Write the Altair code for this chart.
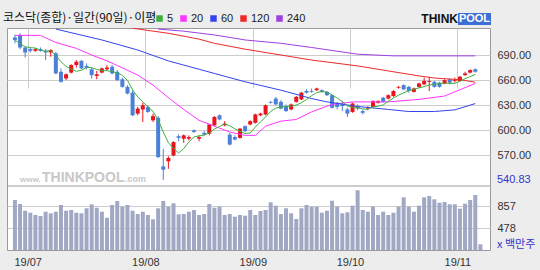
import altair as alt
import pandas as pd

# ---------------- data ----------------
opens = [711, 714, 699, 697, 695, 697, 695, 693, 692, 670,
         662, 669, 678, 683, 677, 673, 665, 669, 673, 676,
         670, 661, 652, 645, 620, 625, 628, 612, 615, 557,
         563, 570, 593, 590, 590, 600, 590, 597, 596, 606,
         618, 606, 595, 592, 591, 605, 607, 609, 618, 619,
         634, 638, 634, 629, 625, 634, 637, 647, 647, 648,
         648, 646, 642, 633, 631, 625, 622, 629, 623, 626,
         628, 633, 639, 638, 641, 651, 654, 652, 646, 652,
         655, 658, 658, 657, 656, 661, 659, 659, 666, 669, 673]
highs = [714, 716, 700, 699, 698, 699, 697, 697, 694, 674,
         668, 679, 684, 684, 680, 675, 671, 675, 678, 678,
         672, 663, 654, 648, 628, 633, 630, 620, 617, 578,
         569, 587, 595, 595, 594, 601, 594, 599, 608, 617,
         619, 611, 597, 594, 603, 606, 612, 620, 621, 631,
         635, 640, 636, 631, 632, 641, 646, 649, 650, 651,
         649, 647, 643, 634, 635, 627, 633, 631, 625, 629,
         636, 636, 640, 643, 648, 653, 655, 653, 651, 657,
         663, 664, 659, 658, 661, 662, 663, 665, 670, 673, 674]
lows = [704, 697, 687, 693, 694, 694, 684, 688, 667, 657,
        660, 668, 675, 673, 673, 662, 661, 668, 671, 667,
        659, 651, 643, 617, 618, 610, 621, 610, 567, 540.83,
        554, 569, 587, 585, 588, 597, 587, 594, 594, 605,
        612, 605, 582, 588, 590, 598, 606, 608, 617, 618,
        632, 630, 625, 622, 624, 633, 636, 644, 645, 647,
        645, 641, 626, 625, 623, 616, 621, 624, 619, 624,
        627, 632, 633, 637, 640, 650, 648, 645, 645, 651,
        654, 647, 651, 651, 655, 655, 657, 658, 665, 668, 669]
closes = [708, 699, 693, 695, 697, 695, 693, 696, 668, 658,
          667, 678, 682, 674, 675, 666, 667, 674, 675, 668,
          660, 652, 644, 618, 626, 630, 622, 617, 568, 553,
          567, 586, 591, 594, 592, 598, 592, 595, 607, 616,
          613, 608, 583, 589, 602, 599, 611, 619, 620, 630,
          633, 631, 626, 623, 631, 640, 645, 645, 646, 650,
          646, 642, 627, 628, 629, 620, 632, 626, 621, 627,
          635, 635, 634, 642, 647, 652, 649, 647, 650, 656,
          659, 659, 652, 652, 660, 657, 660, 664, 668, 672, 670]
volumes = [959, 891, 777, 743, 704, 687, 760, 733, 760, 874,
           777, 789, 743, 733, 818, 886, 828, 760, 658, 874,
           942, 846, 874, 777, 721, 760, 704, 631, 818, 942,
           846, 903, 716, 721, 760, 789, 704, 721, 891, 828,
           846, 704, 721, 675, 704, 692, 789, 704, 772, 789,
           920, 862, 721, 818, 733, 636, 818, 874, 846, 846,
           743, 777, 947, 846, 733, 750, 862, 1125, 789, 760,
           846, 704, 760, 704, 743, 846, 1005, 846, 760, 862,
           1005, 1027, 971, 913, 925, 886, 886, 811, 896, 959,
           1044, 206]

ma20_idx = [0, 5, 8, 12, 15, 18, 20, 24, 27, 30, 33, 36, 39, 42, 45, 47,
            49, 52, 55, 58, 62, 66, 73, 79, 84, 86, 90]
ma20_val = [713.5, 713.5, 705, 698, 690, 683, 677.5, 666, 654, 639, 625, 612,
            605, 598, 594, 594, 605, 611, 613, 622, 631, 634, 634, 637, 641,
            646, 656]
ma60_idx = [8, 17, 24, 30, 33, 39, 45, 52, 58, 61, 67, 73, 77, 82, 86, 90]
ma60_val = [721, 708, 696, 683, 678, 668, 658, 648, 638, 634, 628.5, 625,
            622.5, 622.5, 624.5, 632]
ma120_idx = [23, 30, 36, 39, 45, 52, 58, 67, 73, 79, 82, 87, 90]
ma120_val = [722, 716, 709, 704, 697, 690, 684, 677, 671, 665, 662.5, 660.5,
             657.5]
ma240_idx = [28, 33, 39, 45, 52, 58, 67, 74, 90]
ma240_val = [721, 718.5, 714, 708, 704, 699, 691, 689, 689]

ma_names = ["5", "20", "60", "120", "240"]
ma_colors = ["#3fae3f", "#ff33ff", "#3344ee", "#ee2a2a", "#a040e0"]

month_ticks = [2.5, 25.5, 46.5, 65.5, 86.5]
month_labels = ["19/07", "19/08", "19/09", "19/10", "19/11"]
price_ticks = [570, 600, 630, 660, 690]
vol_ticks = [478, 857]
price_min = 540.83
price_floor = 533.5

title_text = "코스닥(종합)·일간(90일)·이평"
vol_unit = "x 백만주"

# ---------------- tables ----------------
candles = pd.DataFrame({"i": list(range(len(opens))), "open": opens, "high": highs,
                        "low": lows, "close": closes})
vol_df = pd.DataFrame({"i": list(range(len(volumes))), "vol": volumes})
ma_rows = []
for name, ii, vv in [("20", ma20_idx, ma20_val), ("60", ma60_idx, ma60_val),
                     ("120", ma120_idx, ma120_val), ("240", ma240_idx, ma240_val)]:
    for a, b in zip(ii, vv):
        ma_rows.append({"i": a, "v": b, "ma": name})
ma_df = pd.DataFrame(ma_rows)

# ---------------- scales / axes ----------------
W, H = 483, 222
xs = alt.Scale(domain=[-0.574, 91.9], nice=False, zero=False)
ps = alt.Scale(domain=[price_floor, 722.3], range=[158, 0], nice=False, zero=False)
vs = alt.Scale(domain=[109, 1129], range=[222, 162], nice=False, zero=False)

lab = "datum.value < 10 ? '%s' : datum.value < 35 ? '%s' : datum.value < 55 ? '%s' : datum.value < 75 ? '%s' : '%s'" % tuple(month_labels)
xaxis = alt.Axis(values=month_ticks, labelExpr=lab, grid=True, gridColor="#cccccc",
                 domain=False, ticks=False, labelPadding=6, labelFontSize=11,
                 labelFont="Liberation Sans", labelColor="#333333", title=None)
X = alt.X("i:Q", scale=xs, axis=xaxis)

paxis = alt.Axis(orient="right", values=price_ticks, format=".2f", grid=True,
                 gridColor="#cccccc", domain=False, ticks=False, labelPadding=7,
                 labelFontSize=11, labelFont="Liberation Sans", labelColor="#333333",
                 title=None)
vaxis = alt.Axis(orient="right", values=vol_ticks, format="d", grid=True,
                 gridColor="#cccccc", domain=False, ticks=False, labelPadding=7,
                 labelFontSize=11, labelFont="Liberation Sans", labelColor="#333333",
                 title=None)

up = alt.datum.close >= alt.datum.open
ccolor = alt.condition(up, alt.value("#e8141c"), alt.value("#4a80d8"))
cscale = alt.Scale(domain=ma_names, range=ma_colors)
legend = alt.Legend(orient="none", legendX=147, legendY=-15, direction="horizontal",
                    columns=5, title=None, symbolType="square", symbolSize=9,
                    symbolStrokeWidth=3.5, labelFontSize=11, labelFont="Liberation Sans",
                    labelColor="#222222", labelOffset=2, columnPadding=1)

base = alt.Chart(candles)

vol = alt.Chart(vol_df).mark_bar(size=4, color="#a0a8c4", clip=True).encode(
    x=X, y=alt.Y("vol:Q", scale=vs, axis=vaxis))

divider = alt.Chart(pd.DataFrame({"v": [price_floor]})).mark_rule(
    color="#9a9a9a", strokeWidth=1).encode(y=alt.Y("v:Q", scale=ps, axis=None))

wick = base.mark_rule(strokeWidth=1).encode(
    x=X, y=alt.Y("low:Q", scale=ps, axis=paxis), y2="high:Q", color=ccolor)
body = base.mark_bar(size=4).encode(
    x=X, y=alt.Y("open:Q", scale=ps, axis=None), y2="close:Q", color=ccolor)

ma5 = base.transform_window(
    v="mean(close)", frame=[-4, 0], sort=[alt.SortField("i")]
).transform_calculate(ma="'5'").mark_line(strokeWidth=1, clip=True).encode(
    x=X, y=alt.Y("v:Q", scale=ps, axis=None),
    color=alt.Color("ma:N", scale=cscale, legend=legend, sort=ma_names))

mas = alt.Chart(ma_df).mark_line(strokeWidth=1, clip=True).encode(
    x=X, y=alt.Y("v:Q", scale=ps, axis=None),
    color=alt.Color("ma:N", scale=cscale, legend=legend, sort=ma_names),
    detail="ma:N")

minlab = alt.Chart(pd.DataFrame({"v": [price_min]})).mark_text(
    align="left", baseline="middle", dx=7, fontSize=11, font="Liberation Sans",
    color="#3333cc").encode(
    x=alt.value(W), y=alt.Y("v:Q", scale=ps, axis=None), text=alt.Text("v:Q", format=".2f"))

unit = alt.Chart(pd.DataFrame({"t": [vol_unit]})).mark_text(
    align="left", baseline="middle", fontSize=11, font="Noto Sans CJK KR",
    color="#3333cc").encode(x=alt.value(W + 7), y=alt.value(217), text="t:N")

ttl = alt.Chart(pd.DataFrame({"t": [title_text]})).mark_text(
    align="left", baseline="middle", fontSize=12, font="Noto Sans CJK KR",
    color="#111111").encode(x=alt.value(-4), y=alt.value(-10), text="t:N")

logo_box = alt.Chart(pd.DataFrame({"a": [0]})).mark_rect(color="#3c6fd6").encode(
    x=alt.value(451), x2=alt.value(484), y=alt.value(-15), y2=alt.value(-3))
logo1 = alt.Chart(pd.DataFrame({"t": ["THINK"]})).mark_text(
    align="right", baseline="middle", fontSize=12, font="Liberation Sans",
    fontWeight="bold", color="#111111").encode(x=alt.value(451), y=alt.value(-9), text="t:N")
logo2 = alt.Chart(pd.DataFrame({"t": ["POOL"]})).mark_text(
    align="center", baseline="middle", fontSize=11, font="Liberation Sans",
    fontWeight="bold", color="white").encode(x=alt.value(467.5), y=alt.value(-9), text="t:N")

wm1 = alt.Chart(pd.DataFrame({"t": ["www."]})).mark_text(
    align="left", baseline="alphabetic", fontSize=8, font="Liberation Sans",
    fontWeight="bold", color="#c8c8c8").encode(x=alt.value(13), y=alt.value(154), text="t:N")
wm2 = alt.Chart(pd.DataFrame({"t": ["THINKPOOL"]})).mark_text(
    align="left", baseline="alphabetic", fontSize=14, font="Liberation Sans",
    fontWeight="bold", color="#c8c8c8").encode(x=alt.value(35), y=alt.value(154), text="t:N")
wm3 = alt.Chart(pd.DataFrame({"t": [".com"]})).mark_text(
    align="left", baseline="alphabetic", fontSize=9, font="Liberation Sans",
    fontWeight="bold", color="#c8c8c8").encode(x=alt.value(118), y=alt.value(154), text="t:N")

chart = alt.layer(
    wm1, wm2, wm3, vol, divider, wick, body, mas, ma5, minlab, unit, ttl,
    logo_box, logo1, logo2
).resolve_scale(y="independent").properties(
    width=W, height=H,
    autosize=alt.AutoSizeParams(type="none"),
    padding={"left": 7, "top": 28, "right": 50, "bottom": 20},
    background="#ededed",
).configure_view(fill="white", stroke="#9a9a9a")

chart.save("out.html", embed_options={"renderer": "svg", "actions": False})
